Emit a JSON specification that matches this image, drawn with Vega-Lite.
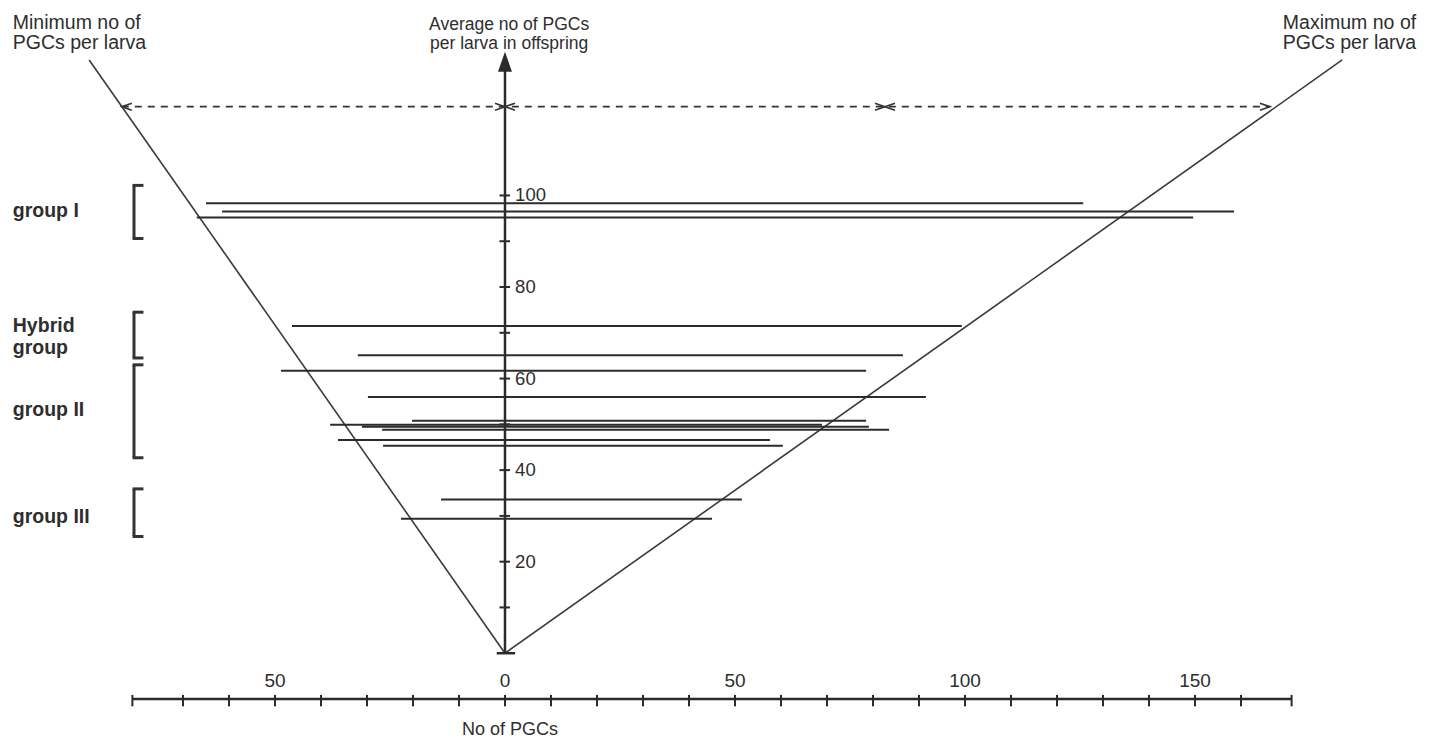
{
  "$schema": "https://vega.github.io/schema/vega-lite/v6.json",
  "width": 1437,
  "height": 740,
  "autosize": {"type": "fit", "contains": "padding"},
  "padding": 0,
  "background": "white",
  "config": {
    "view": {"stroke": null},
    "axis": {"disable": true},
    "text": {"font": "Liberation Sans", "color": "#2e2e2e"}
  },
  "datasets": {
    "one": [{}],
    "larvae": [
      {"group": "I", "avg": 98.3, "min": -65.0, "max": 125.7},
      {"group": "I", "avg": 96.5, "min": -61.5, "max": 158.5},
      {"group": "I", "avg": 95.2, "min": -67.0, "max": 149.6},
      {"group": "Hybrid", "avg": 71.5, "min": -46.3, "max": 99.3},
      {"group": "Hybrid", "avg": 65.1, "min": -32.0, "max": 86.5},
      {"group": "II", "avg": 61.7, "min": -48.7, "max": 78.5},
      {"group": "II", "avg": 56.0, "min": -29.8, "max": 91.5},
      {"group": "II", "avg": 50.8, "min": -20.2, "max": 78.5},
      {"group": "II", "avg": 49.9, "min": -38.0, "max": 68.9},
      {"group": "II", "avg": 49.5, "min": -31.1, "max": 79.1},
      {"group": "II", "avg": 48.8, "min": -26.7, "max": 83.5},
      {"group": "II", "avg": 46.6, "min": -36.3, "max": 57.6},
      {"group": "II", "avg": 45.3, "min": -26.5, "max": 60.4},
      {"group": "III", "avg": 33.6, "min": -13.9, "max": 51.5},
      {"group": "III", "avg": 29.4, "min": -22.6, "max": 45.0}
    ],
    "diagonals": [
      {"x0": 0, "y0": 0, "x1": -90.4, "y1": 129.6},
      {"x0": 0, "y0": 0, "x1": 182.0, "y1": 129.6}
    ],
    "yticks": [{"v": 10}, {"v": 20}, {"v": 30}, {"v": 40}, {"v": 50}, {"v": 60}, {"v": 70}, {"v": 80}, {"v": 90}, {"v": 100}],
    "ylabels": [{"v": 20, "label": "20"}, {"v": 40, "label": "40"}, {"v": 60, "label": "60"}, {"v": 80, "label": "80"}, {"v": 100, "label": "100"}],
    "xticks": [{"v": -81}, {"v": -70}, {"v": -60}, {"v": -50}, {"v": -40}, {"v": -30}, {"v": -20}, {"v": -10}, {"v": 0}, {"v": 10}, {"v": 20}, {"v": 30}, {"v": 40}, {"v": 50}, {"v": 60}, {"v": 70}, {"v": 80}, {"v": 90}, {"v": 100}, {"v": 110}, {"v": 120}, {"v": 130}, {"v": 140}, {"v": 150}, {"v": 160}, {"v": 171}],
    "xlabels": [{"v": -50, "label": "50"}, {"v": 0, "label": "0"}, {"v": 50, "label": "50"}, {"v": 100, "label": "100"}, {"v": 150, "label": "150"}],
    "markers": [
      {"x": -83.3, "points": "left"},
      {"x": 0, "points": "right"},
      {"x": 0, "points": "left"},
      {"x": 82.6, "points": "right"},
      {"x": 82.6, "points": "left"},
      {"x": 166.3, "points": "right"}
    ],
    "brackets": [
      {"group": "I", "top": 102.2, "bottom": 90.6},
      {"group": "Hybrid", "top": 74.5, "bottom": 64.5},
      {"group": "II", "top": 63.0, "bottom": 42.7},
      {"group": "III", "top": 35.9, "bottom": 25.5}
    ],
    "grouplabels": [
      {"label": "group I", "y": 95.2},
      {"label": "Hybrid", "y": 70.2},
      {"label": "group", "y": 65.4},
      {"label": "group II", "y": 51.9},
      {"label": "group III", "y": 28.5}
    ]
  },
  "layer": [
    {
      "data": {"name": "diagonals"},
      "mark": {"type": "rule", "color": "#3a3a3a", "strokeWidth": 1.6},
      "encoding": {
        "x": {"field": "x0", "type": "quantitative", "scale": {"domain": [-109.78, 202.61], "nice": false, "zero": false}},
        "x2": {"field": "x1"},
        "y": {"field": "y0", "type": "quantitative", "scale": {"domain": [-18.52, 142.70], "nice": false, "zero": false}},
        "y2": {"field": "y1"}
      }
    },
    {
      "data": {"name": "larvae"},
      "mark": {"type": "rule", "color": "#2b2b2b", "strokeWidth": 2},
      "encoding": {
        "x": {"field": "min", "type": "quantitative", "scale": {"domain": [-109.78, 202.61], "nice": false, "zero": false}},
        "x2": {"field": "max"},
        "y": {"field": "avg", "type": "quantitative", "scale": {"domain": [-18.52, 142.70], "nice": false, "zero": false}}
      }
    },
    {
      "data": {"name": "one"},
      "mark": {"type": "rule", "color": "#2b2b2b", "strokeWidth": 2.5},
      "encoding": {
        "x": {"datum": 0, "type": "quantitative", "scale": {"domain": [-109.78, 202.61], "nice": false, "zero": false}},
        "y": {"datum": 0, "type": "quantitative", "scale": {"domain": [-18.52, 142.70], "nice": false, "zero": false}},
        "y2": {"datum": 127.5}
      }
    },
    {
      "data": {"name": "one"},
      "mark": {"type": "point", "shape": "M0,-1L0.7,1L-0.7,1Z", "filled": true, "size": 400, "color": "#2b2b2b", "opacity": 1},
      "encoding": {
        "x": {"datum": 0, "type": "quantitative", "scale": {"domain": [-109.78, 202.61], "nice": false, "zero": false}},
        "y": {"datum": 129.2, "type": "quantitative", "scale": {"domain": [-18.52, 142.70], "nice": false, "zero": false}}
      }
    },
    {
      "data": {"name": "yticks"},
      "mark": {"type": "rule", "color": "#2b2b2b", "strokeWidth": 2},
      "encoding": {
        "x": {"datum": -1.2, "type": "quantitative", "scale": {"domain": [-109.78, 202.61], "nice": false, "zero": false}},
        "x2": {"datum": 1.1},
        "y": {"field": "v", "type": "quantitative", "scale": {"domain": [-18.52, 142.70], "nice": false, "zero": false}}
      }
    },
    {
      "data": {"name": "one"},
      "mark": {"type": "rule", "color": "#2b2b2b", "strokeWidth": 2.5},
      "encoding": {
        "x": {"datum": -1.8, "type": "quantitative", "scale": {"domain": [-109.78, 202.61], "nice": false, "zero": false}},
        "x2": {"datum": 2.2},
        "y": {"datum": 0, "type": "quantitative", "scale": {"domain": [-18.52, 142.70], "nice": false, "zero": false}}
      }
    },
    {
      "data": {"name": "ylabels"},
      "mark": {"type": "text", "align": "left", "baseline": "middle", "fontSize": 18.5},
      "encoding": {
        "x": {"datum": 2.2, "type": "quantitative", "scale": {"domain": [-109.78, 202.61], "nice": false, "zero": false}},
        "y": {"field": "v", "type": "quantitative", "scale": {"domain": [-18.52, 142.70], "nice": false, "zero": false}},
        "text": {"field": "label"}
      }
    },
    {
      "data": {"name": "one"},
      "mark": {"type": "rule", "color": "#2b2b2b", "strokeWidth": 2.5},
      "encoding": {
        "x": {"datum": -81, "type": "quantitative", "scale": {"domain": [-109.78, 202.61], "nice": false, "zero": false}},
        "x2": {"datum": 171},
        "y": {"datum": -10, "type": "quantitative", "scale": {"domain": [-18.52, 142.70], "nice": false, "zero": false}}
      }
    },
    {
      "data": {"name": "xticks"},
      "mark": {"type": "rule", "color": "#2b2b2b", "strokeWidth": 2},
      "encoding": {
        "x": {"field": "v", "type": "quantitative", "scale": {"domain": [-109.78, 202.61], "nice": false, "zero": false}},
        "y": {"datum": -9.1, "type": "quantitative", "scale": {"domain": [-18.52, 142.70], "nice": false, "zero": false}},
        "y2": {"datum": -11.6}
      }
    },
    {
      "data": {"name": "xlabels"},
      "mark": {"type": "text", "align": "center", "baseline": "middle", "fontSize": 19},
      "encoding": {
        "x": {"field": "v", "type": "quantitative", "scale": {"domain": [-109.78, 202.61], "nice": false, "zero": false}},
        "y": {"datum": -6.1, "type": "quantitative", "scale": {"domain": [-18.52, 142.70], "nice": false, "zero": false}},
        "text": {"field": "label"}
      }
    },
    {
      "data": {"name": "one"},
      "mark": {"type": "text", "align": "center", "baseline": "middle", "fontSize": 18, "text": "No  of  PGCs"},
      "encoding": {
        "x": {"datum": 1.1, "type": "quantitative", "scale": {"domain": [-109.78, 202.61], "nice": false, "zero": false}},
        "y": {"datum": -16.8, "type": "quantitative", "scale": {"domain": [-18.52, 142.70], "nice": false, "zero": false}}
      }
    },
    {
      "data": {"name": "one"},
      "mark": {"type": "rule", "color": "#333333", "strokeWidth": 1.6, "strokeDash": [7, 6]},
      "encoding": {
        "x": {"datum": -83.3, "type": "quantitative", "scale": {"domain": [-109.78, 202.61], "nice": false, "zero": false}},
        "x2": {"datum": 166.3},
        "y": {"datum": 119.4, "type": "quantitative", "scale": {"domain": [-18.52, 142.70], "nice": false, "zero": false}}
      }
    },
    {
      "data": {"name": "markers"},
      "mark": {"type": "point", "filled": false, "size": 100, "strokeWidth": 1.6, "color": "#333333", "opacity": 1},
      "encoding": {
        "x": {"field": "x", "type": "quantitative", "scale": {"domain": [-109.78, 202.61], "nice": false, "zero": false}},
        "y": {"datum": 119.4, "type": "quantitative", "scale": {"domain": [-18.52, 142.70], "nice": false, "zero": false}},
        "shape": {"field": "points", "type": "nominal", "scale": {"domain": ["left", "right"], "range": ["M2,-0.7L0,0L2,0.7", "M-2,-0.7L0,0L-2,0.7"]}, "legend": null}
      }
    },
    {
      "data": {"name": "brackets"},
      "mark": {"type": "rule", "color": "#333333", "strokeWidth": 3},
      "encoding": {
        "x": {"datum": -80.65, "type": "quantitative", "scale": {"domain": [-109.78, 202.61], "nice": false, "zero": false}},
        "y": {"field": "top", "type": "quantitative", "scale": {"domain": [-18.52, 142.70], "nice": false, "zero": false}},
        "y2": {"field": "bottom"}
      }
    },
    {
      "data": {"name": "brackets"},
      "mark": {"type": "rule", "color": "#333333", "strokeWidth": 3},
      "encoding": {
        "x": {"datum": -80.95, "type": "quantitative", "scale": {"domain": [-109.78, 202.61], "nice": false, "zero": false}},
        "x2": {"datum": -78.6},
        "y": {"field": "top", "type": "quantitative", "scale": {"domain": [-18.52, 142.70], "nice": false, "zero": false}}
      }
    },
    {
      "data": {"name": "brackets"},
      "mark": {"type": "rule", "color": "#333333", "strokeWidth": 3},
      "encoding": {
        "x": {"datum": -80.95, "type": "quantitative", "scale": {"domain": [-109.78, 202.61], "nice": false, "zero": false}},
        "x2": {"datum": -78.6},
        "y": {"field": "bottom", "type": "quantitative", "scale": {"domain": [-18.52, 142.70], "nice": false, "zero": false}}
      }
    },
    {
      "data": {"name": "grouplabels"},
      "mark": {"type": "text", "align": "left", "baseline": "alphabetic", "fontSize": 19.5, "fontWeight": "bold"},
      "encoding": {
        "x": {"datum": -107, "type": "quantitative", "scale": {"domain": [-109.78, 202.61], "nice": false, "zero": false}},
        "y": {"field": "y", "type": "quantitative", "scale": {"domain": [-18.52, 142.70], "nice": false, "zero": false}},
        "text": {"field": "label"}
      }
    },
    {
      "data": {"name": "one"},
      "mark": {"type": "text", "align": "left", "baseline": "alphabetic", "fontSize": 19.5, "lineHeight": 19.5, "text": ["Minimum no of", "PGCs per larva"]},
      "encoding": {
        "x": {"datum": -107, "type": "quantitative", "scale": {"domain": [-109.78, 202.61], "nice": false, "zero": false}},
        "y": {"datum": 136.3, "type": "quantitative", "scale": {"domain": [-18.52, 142.70], "nice": false, "zero": false}}
      }
    },
    {
      "data": {"name": "one"},
      "mark": {"type": "text", "align": "center", "baseline": "alphabetic", "fontSize": 17.5, "lineHeight": 19.5, "text": ["Average no of PGCs", "per larva in offspring"]},
      "encoding": {
        "x": {"datum": 0.9, "type": "quantitative", "scale": {"domain": [-109.78, 202.61], "nice": false, "zero": false}},
        "y": {"datum": 136.2, "type": "quantitative", "scale": {"domain": [-18.52, 142.70], "nice": false, "zero": false}}
      }
    },
    {
      "data": {"name": "one"},
      "mark": {"type": "text", "align": "left", "baseline": "alphabetic", "fontSize": 19.5, "lineHeight": 19.5, "text": ["Maximum no of", "PGCs per larva"]},
      "encoding": {
        "x": {"datum": 169.1, "type": "quantitative", "scale": {"domain": [-109.78, 202.61], "nice": false, "zero": false}},
        "y": {"datum": 136.3, "type": "quantitative", "scale": {"domain": [-18.52, 142.70], "nice": false, "zero": false}}
      }
    }
  ]
}
